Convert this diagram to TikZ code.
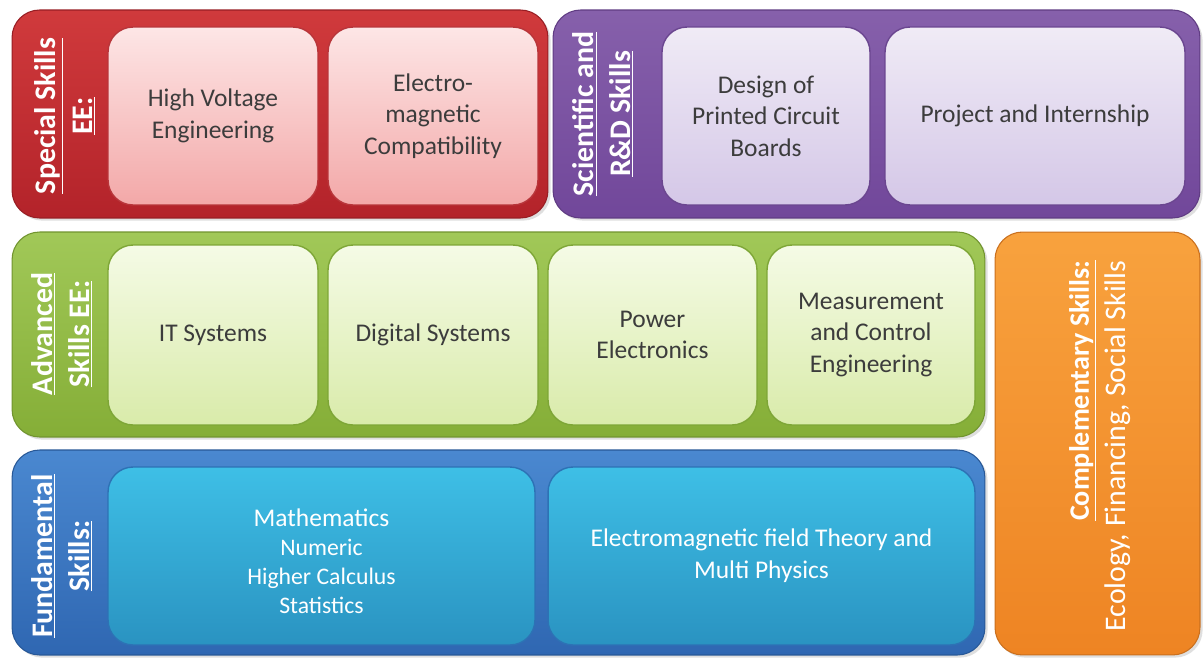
\documentclass[tikz,border=0pt]{standalone}
\usepackage{fontspec}
\setmainfont{Carlito}
\usetikzlibrary{positioning,shadows}
\definecolor{rdtop}{HTML}{D03A3C}  \definecolor{rdbot}{HTML}{B3232A}
\definecolor{rdhi}{HTML}{FDE6E6}   \definecolor{rdlo}{HTML}{F3A8A8}
\definecolor{rdedge}{HTML}{B8353A}
\definecolor{putop}{HTML}{8660AB}  \definecolor{pubot}{HTML}{71479A}
\definecolor{puhi}{HTML}{F0EBF6}   \definecolor{pulo}{HTML}{D4C7E7}
\definecolor{puedge}{HTML}{6B4690}
\definecolor{grtop}{HTML}{A1C858}  \definecolor{grbot}{HTML}{85AE37}
\definecolor{grhi}{HTML}{F5FBE6}   \definecolor{grlo}{HTML}{D9EBAA}
\definecolor{gredge}{HTML}{7EA637}
\definecolor{bltop}{HTML}{4A88D0}  \definecolor{blbot}{HTML}{2F67B2}
\definecolor{blhi}{HTML}{3EBFE6}   \definecolor{bllo}{HTML}{2A93C1}
\definecolor{bledge}{HTML}{2D72B5}
\definecolor{ortop}{HTML}{F8A23E}  \definecolor{orbot}{HTML}{EE8423}
\definecolor{txt}{HTML}{3C3C3C}
\tikzset{
  pnl/.style   = {rounded corners=0.55cm, draw=#1bot!85!black, line width=0.6pt,
                  top color=#1top, bottom color=#1bot, inner sep=0pt,
                  drop shadow={opacity=0.25, shadow xshift=1.5pt, shadow yshift=-1.5pt}},
  box/.style   = {rounded corners=0.5cm, draw=#1edge, line width=0.8pt,
                  top color=#1hi, bottom color=#1lo, align=center, text=txt,
                  minimum width=4.2cm, minimum height=3.56cm, inner sep=2pt,
                  font=\fontsize{14.5}{18}\selectfont},
  lbl/.style   = {rotate=90, text=white, align=center,
                  font=\fontsize{17}{21}\selectfont\bfseries},
}
\newcommand{\subline}{\fontsize{13.5}{16.5}\selectfont}

\begin{document}
\begin{tikzpicture}[x=0.02cm, y=-0.02cm]
  \useasboundingbox[fill=white] (0,0) rectangle (1203,659);
  % outer panels
  \node[pnl=rd, minimum width=10.72cm, minimum height=4.16cm] (special) at (280,114) {};
  \node[pnl=pu, minimum width=12.94cm, minimum height=4.16cm] (rnd) at (876.5,114) {};
  \node[pnl=gr, minimum width=19.46cm, minimum height=4.1cm] (adv) at (498.5,334.5) {};
  \node[pnl=bl, minimum width=19.46cm, minimum height=4.1cm] (fund) at (498.5,552.5) {};
  \node[pnl=or, minimum width=4.1cm, minimum height=8.46cm] (compl) at (1097.5,443.5) {};
  % panel titles
  \node[lbl] (speciallbl) at (65,116) {\underline{Special Skills}\\\underline{EE:}};
  \node[lbl] (rndlbl) at (603,114) {\underline{Scientific and}\\\underline{R\&D Skills}};
  \node[lbl] (advlbl) at (62,334) {\underline{Advanced}\\\underline{Skills EE:}};
  \node[lbl] (fundlbl) at (62,556) {\underline{Fundamental}\\\underline{Skills:}};
  \node[lbl, align=right, font=\fontsize{16}{21}\selectfont] (compllbl) at (1100,446)
    {\textbf{\underline{Complementary Skills:}}\\\fontsize{17}{21}\selectfont Ecology, Financing, Social Skills};
  % special skills
  \node[box=rd] (hv) at (213,116) {High Voltage\\Engineering};
  \node[box=rd] (emc) at (433,116) {Electro-\\magnetic\\Compatibility};
  % scientific and R&D
  \node[box=pu, minimum width=4.16cm] (pcb) at (766,116) {Design of\\Printed Circuit\\Boards};
  \node[box=pu, minimum width=6cm] (proj) at (1035,116) {Project and Internship};
  % advanced skills
  \node[box=gr, minimum height=3.6cm] (it) at (213,335) {IT Systems};
  \node[box=gr, minimum height=3.6cm] (dig) at (433,335) {Digital Systems};
  \node[box=gr, minimum height=3.6cm, minimum width=4.18cm] (pow) at (652.5,335) {Power\\Electronics};
  \node[box=gr, minimum height=3.6cm, minimum width=4.16cm] (meas) at (871,335) {Measurement\\and Control\\Engineering};
  % fundamental skills
  \node[box=bl, text=white, minimum width=8.54cm] (math) at (321.5,556)
    {\rule{0pt}{15.5pt}Mathematics\\[-1.5pt]\subline Numeric\\[-1.5pt]\subline Higher Calculus\\[-1.5pt]\subline Statistics};
  \node[box=bl, text=white, minimum width=8.54cm] (emf) at (761.5,556)
    {Electromagnetic field Theory and\\Multi Physics};
\end{tikzpicture}
\end{document}
